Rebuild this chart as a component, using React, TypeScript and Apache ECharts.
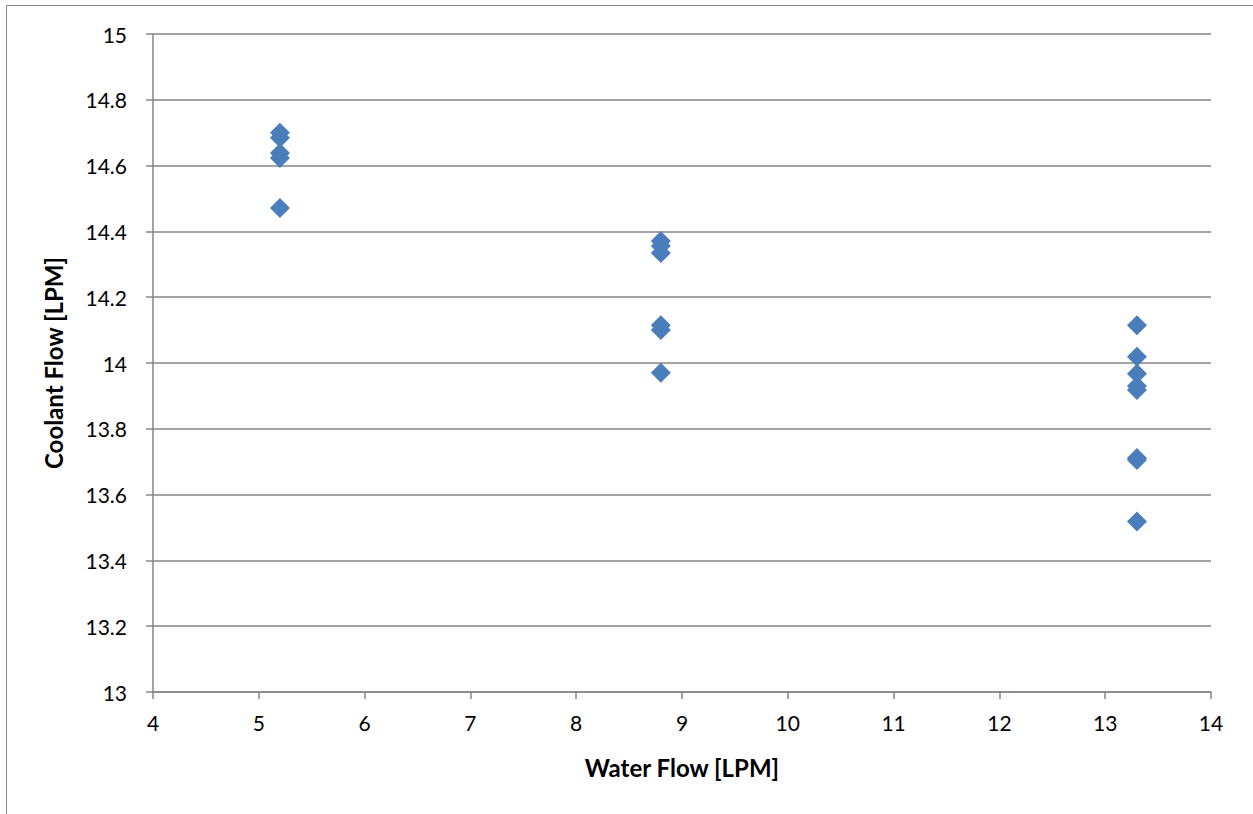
import React, { useEffect, useRef } from "react";
import * as echarts from "echarts";

const waterFlow = [5.2, 5.2, 5.2, 5.2, 5.2, 8.8, 8.8, 8.8, 8.8, 8.8, 8.8, 13.3, 13.3, 13.3, 13.3, 13.3, 13.3, 13.3, 13.3];
const coolantFlow = [14.70, 14.685, 14.638, 14.623, 14.471, 14.371, 14.356, 14.334, 14.115, 14.10, 13.970, 14.115, 14.019, 13.967, 13.930, 13.918, 13.711, 13.705, 13.518];

const xTitle = "Water Flow [LPM]";
const yTitle = "Coolant Flow [LPM]";

const FONT = "Lato, 'Noto Sans', sans-serif";
const GRAY = "#868686";

export default function App() {
  const ref = useRef<HTMLDivElement>(null);
  useEffect(() => {
    if (!ref.current) return;
    const chart = echarts.init(ref.current, null, { renderer: "svg" });
    const data = waterFlow.map((x, i) => [x, coolantFlow[i]]);
    chart.setOption({
      animation: false,
      backgroundColor: "#ffffff",
      graphic: [
        {
          type: "rect",
          shape: { x: 6.5, y: 5.5, width: 1300, height: 900 },
          style: { fill: "none", stroke: GRAY, lineWidth: 1 },
          silent: true,
        },
      ],
      grid: { left: 153, top: 34, right: 42, bottom: 122 },
      xAxis: {
        type: "value",
        min: 4,
        max: 14,
        interval: 1,
        name: xTitle,
        nameLocation: "middle",
        nameGap: 63,
        nameTextStyle: { fontFamily: FONT, fontSize: 24, fontWeight: "bold", color: "#000" },
        axisLine: { show: true, onZero: false, lineStyle: { color: GRAY, width: 1.5 } },
        axisTick: { show: true, length: 7, inside: false, lineStyle: { color: GRAY, width: 1.5 } },
        axisLabel: { fontFamily: FONT, fontSize: 21, color: "#000", margin: 20 },
        splitLine: { show: false },
      },
      yAxis: {
        type: "value",
        min: 13,
        max: 15,
        interval: 0.2,
        name: yTitle,
        nameLocation: "middle",
        nameGap: 88,
        nameTextStyle: { fontFamily: FONT, fontSize: 24, fontWeight: "bold", color: "#000" },
        axisLine: { show: true, lineStyle: { color: GRAY, width: 1.5 } },
        axisTick: { show: true, length: 7, inside: false, lineStyle: { color: GRAY, width: 1.5 } },
        axisLabel: {
          fontFamily: FONT,
          fontSize: 21,
          color: "#000",
          margin: 26,
          formatter: (v: number) => String(Math.round(v * 10) / 10),
        },
        splitLine: { show: true, lineStyle: { color: GRAY, width: 1.5 } },
      },
      series: [
        {
          type: "scatter",
          data,
          symbol: "diamond",
          symbolSize: 20,
          itemStyle: { color: "#4a7ebb", opacity: 1 },
        },
      ],
    });
    return () => chart.dispose();
  }, []);
  return (
    <div
      ref={ref}
      style={{ position: "fixed", left: 0, top: 0, width: 1253, height: 814, background: "#fff" }}
    />
  );
}
